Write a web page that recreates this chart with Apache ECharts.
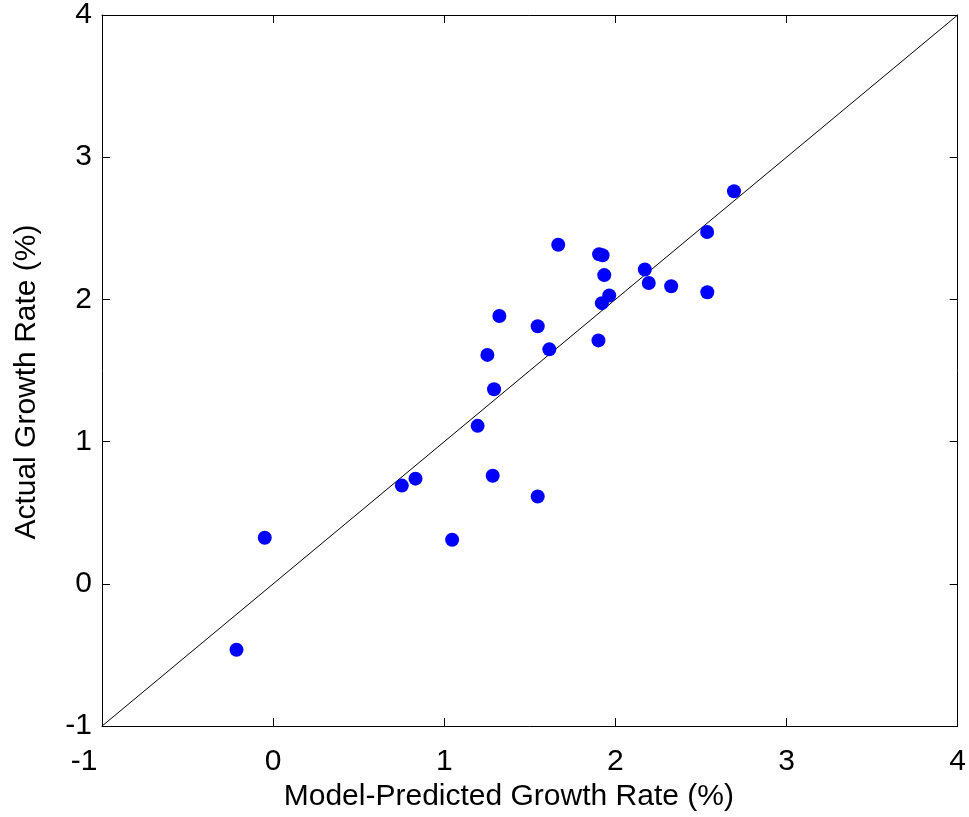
<!DOCTYPE html>
<html style="height: 100%; width:100%">
<head>
    <meta charset="utf-8">
</head>
<body style="height: 100%; width: 100%; margin: 0; background: #ffffff;">
<div id="container" style="width: 969px; height: 817px;"></div>
<script type="text/javascript" src="https://cdn.jsdelivr.net/npm/echarts@6/dist/echarts.min.js"></script>
<script type="text/javascript">
            // values
            var predicted = [-0.214, -0.049, 0.752, 0.832, 1.046, 1.195, 1.283, 1.291, 1.252, 1.322,
                             1.546, 1.546, 1.614, 1.666, 1.901, 1.905, 1.925, 1.935, 1.921, 1.964,
                             2.172, 2.195, 2.326, 2.536, 2.537, 2.693];
            var actual = [-0.463, 0.324, 0.691, 0.740, 0.310, 1.111, 0.760, 1.368, 1.610, 1.884,
                          0.614, 1.812, 1.649, 2.385, 1.712, 2.318, 2.311, 2.171, 1.974, 2.028,
                          2.211, 2.116, 2.093, 2.474, 2.051, 2.761];
            var refLineX = [-1, 4];
            var refLineY = [-1, 4];
            var axisMin = -1;
            var axisMax = 4;
            var axisStep = 1;

            var dom = document.getElementById("container");
            var myChart = echarts.init(dom);

            var points = predicted.map(function (x, i) { return [x, actual[i]]; });
            var refLine = refLineX.map(function (x, i) { return [x, refLineY[i]]; });

            var fontName = "'Liberation Sans', Arial, sans-serif";

            function makeAxis(pos, showLabel, name, extra) {
                var ax = {
                    type: "value",
                    position: pos,
                    min: axisMin,
                    max: axisMax,
                    interval: axisStep,
                    splitLine: { show: false },
                    axisLine: { show: true, onZero: false, lineStyle: { color: "#000", width: 1 } },
                    axisTick: { show: true, inside: true, length: 8, lineStyle: { color: "#000", width: 1 } },
                    axisLabel: { show: showLabel, color: "#000", fontSize: 30, fontFamily: fontName },
                    name: name,
                    nameLocation: "middle",
                    nameTextStyle: { color: "#000", fontSize: 30, fontFamily: fontName }
                };
                for (var k in extra) {
                    if (typeof extra[k] === "object" && ax[k]) {
                        Object.assign(ax[k], extra[k]);
                    } else {
                        ax[k] = extra[k];
                    }
                }
                return ax;
            }

            var option = {
                animation: false,
                backgroundColor: "#ffffff",
                grid: { left: 102, right: 10, top: 15, bottom: 84, containLabel: false },
                xAxis: [
                    makeAxis("bottom", true, "Model-Predicted Growth Rate (%)", {
                        nameGap: 48,
                        nameTextStyle: { padding: [0, 42, 0, 0] },
                        axisLabel: {
                            margin: 21,
                            formatter: function (v) {
                                // the reference sets "-1" a little left of its tick
                                return v < 0 ? "{neg|" + v + "}" : String(v);
                            },
                            rich: { neg: { fontSize: 30, fontFamily: fontName, color: "#000", padding: [0, 36, 0, 0] } }
                        }
                    }),
                    makeAxis("top", false, "", {})
                ],
                yAxis: [
                    makeAxis("left", true, "Actual Growth Rate (%)", {
                        nameGap: 60,
                        nameTextStyle: { padding: [0, 23, 0, 0] },
                        axisLabel: { margin: 10 }
                    }),
                    makeAxis("right", false, "", {})
                ],
                series: [
                    {
                        type: "line",
                        data: refLine,
                        showSymbol: false,
                        symbol: "none",
                        lineStyle: { color: "#000", width: 1 },
                        silent: true,
                        z: 2
                    },
                    {
                        type: "scatter",
                        data: points,
                        symbol: "circle",
                        symbolSize: 14,
                        itemStyle: { color: "#0000ff", opacity: 1 },
                        z: 3
                    }
                ]
            };
            myChart.setOption(option, true);
</script>
</body>
</html>
